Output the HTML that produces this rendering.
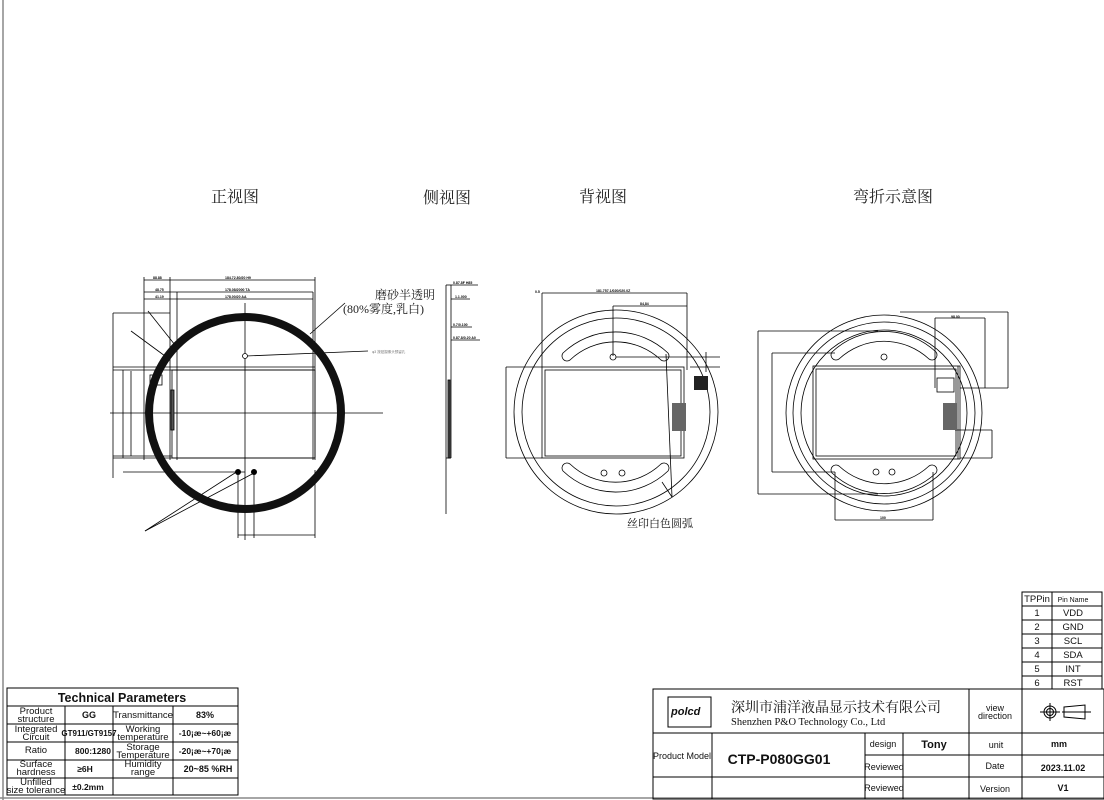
<!DOCTYPE html>
<html><head><meta charset="utf-8"><style>
html,body{margin:0;padding:0;background:#fff;}
svg{display:block;}
text{font-family:"Liberation Sans","Noto Sans CJK SC",sans-serif;}
.s{font-family:"Liberation Serif","Noto Serif CJK SC",serif;}
</style></head><body>
<svg width="1104" height="800" viewBox="0 0 1104 800" xmlns="http://www.w3.org/2000/svg">
<rect width="1104" height="800" fill="#fff"/>
<line x1="3" y1="0" x2="3" y2="800" stroke="#888" stroke-width="1.5"/>
<line x1="0" y1="798" x2="1104" y2="798" stroke="#888" stroke-width="1.5"/>

<!-- titles -->
<g class="s" font-size="16" fill="#222" text-anchor="middle">
<text x="235" y="202" class="s">正视图</text>
<text x="447" y="203" class="s">侧视图</text>
<text x="603" y="202" class="s">背视图</text>
<text x="893" y="202" class="s">弯折示意图</text>
</g>

<!-- FRONT VIEW -->
<g stroke="#000" fill="none" stroke-width="0.8">
<line x1="144" y1="280" x2="315" y2="280"/>
<line x1="144" y1="292" x2="313" y2="292"/>
<line x1="144" y1="299" x2="313" y2="299"/>
<line x1="144" y1="277" x2="144" y2="460"/>
<line x1="170" y1="277" x2="170" y2="460"/>
<line x1="177" y1="292" x2="177" y2="460"/>
<line x1="315" y1="277" x2="315" y2="460"/>
<line x1="313" y1="292" x2="313" y2="460"/>
<line x1="113" y1="313" x2="170" y2="313"/>
<line x1="113" y1="313" x2="113" y2="478"/>
<line x1="113" y1="367" x2="315" y2="367"/>
<line x1="113" y1="370" x2="315" y2="370"/>
<line x1="123" y1="370" x2="123" y2="458"/>
<line x1="131" y1="371" x2="131" y2="456"/>
<line x1="113" y1="458" x2="315" y2="458"/>
<line x1="113" y1="456" x2="172" y2="456"/>
<line x1="123" y1="472" x2="245" y2="472"/>
<rect x="172" y="370" width="143" height="88"/>
<line x1="110" y1="413" x2="383" y2="413"/>
<line x1="245" y1="303" x2="245" y2="540"/>
<line x1="238" y1="471" x2="238" y2="538"/>
<line x1="254" y1="471" x2="254" y2="538"/>
<line x1="238" y1="535" x2="315" y2="535"/>
<line x1="315" y1="470" x2="315" y2="538"/>
<line x1="148" y1="311" x2="175" y2="345"/>
<line x1="131" y1="331" x2="165" y2="356"/>
<line x1="310" y1="334" x2="345" y2="303"/>
<line x1="246" y1="356" x2="368" y2="351"/>
<line x1="145" y1="531" x2="238" y2="471"/>
<line x1="145" y1="531" x2="254" y2="473"/>
<rect x="150" y="375" width="12" height="10"/>
<rect x="171" y="390" width="3" height="40" fill="#555"/>
</g>
<circle cx="245" cy="413" r="96" fill="none" stroke="#111" stroke-width="8"/>
<circle cx="245" cy="356" r="2.5" fill="#fff" stroke="#000" stroke-width="0.8"/>
<circle cx="238" cy="472" r="3" fill="#000"/>
<circle cx="254" cy="472" r="3" fill="#000"/>
<g font-size="3.5" fill="#000" font-weight="bold">
<text x="153" y="279">88.88</text><text x="225" y="279">184.72.80/20 H9</text>
<text x="155" y="291">48.75</text><text x="225" y="291">178.08/2000 TA</text>
<text x="155" y="298">41.19</text><text x="225" y="298">178.00/20 AA</text>
</g>
<text x="372" y="353" font-size="3.5" fill="#777">φ3 按钮摄像头预留孔</text>
<text x="375" y="299" class="s" font-size="12" fill="#222">磨砂半透明</text>
<text x="343" y="313" class="s" font-size="12" fill="#222">(80%雾度,乳白)</text>

<!-- SIDE VIEW -->
<g stroke="#000" fill="none" stroke-width="0.8">
<line x1="446" y1="285" x2="446" y2="514"/>
<line x1="451" y1="285" x2="451" y2="458"/>
<line x1="446" y1="285" x2="451" y2="285"/>
<line x1="446" y1="458" x2="451" y2="458"/>
<rect x="448" y="380" width="2" height="78" fill="#555"/>
<line x1="451" y1="285" x2="478" y2="285"/>
<line x1="451" y1="299" x2="470" y2="299"/>
<line x1="451" y1="327" x2="472" y2="327"/>
<line x1="451" y1="340" x2="480" y2="340"/>
</g>
<g font-size="3.5" font-weight="bold"><text x="453" y="284">0.87.8F H85</text><text x="455" y="298">1.1.000</text><text x="453" y="326">0.7/0.100</text><text x="453" y="339">0.87.8/0.20 A0</text></g>

<!-- BACK VIEW -->
<g stroke="#000" fill="none" stroke-width="0.8">
<circle cx="616" cy="412" r="102"/>
<circle cx="616" cy="412" r="94"/>
<path d="M563 353 A 76 76 0 0 1 668 353 A 5 5 0 0 1 661 360 A 66 66 0 0 0 570 360 A 5 5 0 0 1 563 353 Z"/>
<path d="M563 471 A 76 76 0 0 0 668 471 A 5 5 0 0 0 661 464 A 66 66 0 0 1 570 464 A 5 5 0 0 0 563 471 Z"/>
<rect x="542" y="367" width="142" height="91"/>
<rect x="545" y="370" width="136" height="86"/>
<line x1="542" y1="367" x2="542" y2="293"/>
<line x1="542" y1="293" x2="687" y2="293"/>
<line x1="687" y1="293" x2="687" y2="370"/>
<line x1="613" y1="306" x2="613" y2="356"/>
<line x1="613" y1="306" x2="687" y2="306"/>
<line x1="616" y1="357" x2="720" y2="357"/>
<line x1="690" y1="367" x2="720" y2="367"/>
<line x1="706" y1="352" x2="706" y2="372"/>
<line x1="506" y1="367" x2="542" y2="367"/>
<line x1="506" y1="458" x2="542" y2="458"/>
<line x1="506" y1="367" x2="506" y2="458"/>
<line x1="666" y1="354" x2="672" y2="497"/>
<line x1="662" y1="482" x2="672" y2="497"/>
<circle cx="613" cy="357" r="3"/>
<circle cx="604" cy="473" r="3"/>
<circle cx="622" cy="473" r="3"/>
</g>
<rect x="694" y="376" width="14" height="14" fill="#222"/>
<rect x="672" y="403" width="14" height="28" fill="#666"/>
<text x="627" y="527" class="s" font-size="11" fill="#111">丝印白色圆弧</text>
<g font-size="3.5" font-weight="bold"><text x="535" y="293">0.5</text><text x="596" y="292">181.757.1/020/020.0Z</text><text x="640" y="305">84,84</text></g>

<!-- BEND VIEW -->
<g stroke="#000" fill="none" stroke-width="0.8">
<circle cx="884" cy="413" r="98"/>
<circle cx="884" cy="413" r="91"/>
<circle cx="884" cy="413" r="83"/>
<path d="M832 352 A 76 76 0 0 1 936 352 A 5 5 0 0 1 929 359 A 66 66 0 0 0 839 359 A 5 5 0 0 1 832 352 Z"/>
<path d="M832 473 A 76 76 0 0 0 936 473 A 5 5 0 0 0 929 466 A 66 66 0 0 1 839 466 A 5 5 0 0 0 832 473 Z"/>
<rect x="813" y="366" width="147" height="93"/>
<rect x="816" y="369" width="140" height="87"/>
<line x1="958" y1="366" x2="958" y2="459"/>
<rect x="937" y="378" width="17" height="14"/>
<line x1="758" y1="331" x2="878" y2="331"/>
<line x1="758" y1="331" x2="758" y2="494"/>
<line x1="758" y1="494" x2="878" y2="494"/>
<line x1="772" y1="353" x2="835" y2="353"/>
<line x1="772" y1="353" x2="772" y2="472"/>
<line x1="772" y1="472" x2="835" y2="472"/>
<line x1="935" y1="318" x2="985" y2="318"/>
<line x1="935" y1="318" x2="935" y2="388"/>
<line x1="985" y1="318" x2="985" y2="388"/>
<line x1="900" y1="312" x2="1008" y2="312"/>
<line x1="1008" y1="312" x2="1008" y2="388"/>
<line x1="960" y1="388" x2="1008" y2="388"/>
<line x1="955" y1="430" x2="992" y2="430"/>
<line x1="992" y1="430" x2="992" y2="458"/>
<line x1="960" y1="458" x2="992" y2="458"/>
<line x1="835" y1="472" x2="835" y2="520"/>
<line x1="933" y1="472" x2="933" y2="520"/>
<line x1="835" y1="520" x2="933" y2="520"/>
<circle cx="884" cy="357" r="3"/>
<circle cx="876" cy="472" r="3"/>
<circle cx="892" cy="472" r="3"/>
</g>
<rect x="943" y="403" width="14" height="27" fill="#666"/>
<g font-size="3.5" font-weight="bold"><text x="951" y="318">98.00</text><text x="880" y="519">100</text></g>

<!-- TECH PARAMS TABLE -->
<g stroke="#000" stroke-width="1" fill="none">
<rect x="7" y="688" width="231" height="107"/>
<line x1="7" y1="706" x2="238" y2="706"/>
<line x1="7" y1="724" x2="238" y2="724"/>
<line x1="7" y1="742" x2="238" y2="742"/>
<line x1="7" y1="760" x2="238" y2="760"/>
<line x1="7" y1="778" x2="238" y2="778"/>
<line x1="65" y1="706" x2="65" y2="795"/>
<line x1="113" y1="706" x2="113" y2="795"/>
<line x1="173" y1="706" x2="173" y2="795"/>
</g>
<g fill="#111" text-anchor="middle" font-size="9.5">
<text x="122" y="702" font-size="12.5" font-weight="bold">Technical Parameters</text>
<text x="36" y="714">Product</text><text x="36" y="722">structure</text>
<text x="89" y="718" font-weight="bold" font-size="9">GG</text>
<text x="143" y="718">Transmittance</text>
<text x="205" y="718" font-weight="bold" font-size="9">83%</text>
<text x="36" y="732">Integrated</text><text x="36" y="740">Circuit</text>
<text x="89" y="736" font-weight="bold" font-size="8">GT911/GT9157</text>
<text x="143" y="732">Working</text><text x="143" y="740">temperature</text>
<text x="205" y="736" font-weight="bold" font-size="8.5">-10¡æ~+60¡æ</text>
<text x="36" y="753">Ratio</text>
<text x="93" y="754" font-weight="bold" font-size="8.5">800:1280</text>
<text x="143" y="750">Storage</text><text x="143" y="758">Temperature</text>
<text x="205" y="754" font-weight="bold" font-size="8.5">-20¡æ~+70¡æ</text>
<text x="36" y="767">Surface</text><text x="36" y="775">hardness</text>
<text x="85" y="772" font-weight="bold" font-size="8.5">≥6H</text>
<text x="143" y="767">Humidity</text><text x="143" y="775">range</text>
<text x="208" y="772" font-weight="bold" font-size="9">20~85 %RH</text>
<text x="36" y="785">Unfilled</text><text x="36" y="793">size tolerance</text>
<text x="88" y="790" font-weight="bold" font-size="8.5">±0.2mm</text>
</g>

<!-- PIN TABLE -->
<g stroke="#000" stroke-width="1" fill="none">
<rect x="1022" y="592" width="80" height="97"/>
<line x1="1052" y1="592" x2="1052" y2="689"/>
<line x1="1022" y1="606" x2="1102" y2="606"/>
<line x1="1022" y1="620" x2="1102" y2="620"/>
<line x1="1022" y1="634" x2="1102" y2="634"/>
<line x1="1022" y1="648" x2="1102" y2="648"/>
<line x1="1022" y1="662" x2="1102" y2="662"/>
<line x1="1022" y1="676" x2="1102" y2="676"/>
</g>
<g fill="#111" text-anchor="middle" font-size="9.5">
<text x="1037" y="602">TPPin</text><text x="1073" y="602" font-size="7">Pin Name</text>
<text x="1037" y="616">1</text><text x="1073" y="616">VDD</text>
<text x="1037" y="630">2</text><text x="1073" y="630">GND</text>
<text x="1037" y="644">3</text><text x="1073" y="644">SCL</text>
<text x="1037" y="658">4</text><text x="1073" y="658">SDA</text>
<text x="1037" y="672">5</text><text x="1073" y="672">INT</text>
<text x="1037" y="686">6</text><text x="1073" y="686">RST</text>
</g>

<!-- TITLE BLOCK -->
<g stroke="#000" stroke-width="1" fill="none">
<rect x="653" y="689" width="451" height="110"/>
<line x1="653" y1="733" x2="1104" y2="733"/>
<line x1="653" y1="777" x2="1104" y2="777"/>
<line x1="712" y1="733" x2="712" y2="799"/>
<line x1="865" y1="733" x2="865" y2="799"/>
<line x1="903" y1="733" x2="903" y2="799"/>
<line x1="865" y1="755" x2="1104" y2="755"/>
<line x1="969" y1="689" x2="969" y2="799"/>
<line x1="1022" y1="689" x2="1022" y2="799"/>
<path d="M668 697 H711 V727 H668 Z"/>
<circle cx="1050" cy="712" r="6"/><circle cx="1050" cy="712" r="3.5"/>
<line x1="1040" y1="712" x2="1060" y2="712"/><line x1="1050" y1="703" x2="1050" y2="721"/>
<path d="M1064 707 L1085 705 L1085 719 L1064 717 Z"/>
<line x1="1062" y1="712" x2="1091" y2="712"/>
</g>
<text x="671" y="715" font-size="11" font-style="italic" font-weight="bold" fill="#111">polcd</text>
<text x="731" y="712" class="s" font-size="14" fill="#111">深圳市浦洋液晶显示技术有限公司</text>
<text x="731" y="725" class="s" font-size="10.5" fill="#111">Shenzhen P&amp;O Technology Co., Ltd</text>
<g fill="#111" text-anchor="middle" font-size="9">
<text x="995" y="711">view</text><text x="995" y="719">direction</text>
<text x="682" y="759">Product Model</text>
<text x="779" y="764" font-size="14" font-weight="bold">CTP-P080GG01</text>
<text x="883" y="747">design</text>
<text x="934" y="748" font-size="11" font-weight="bold">Tony</text>
<text x="884" y="770">Reviewed</text>
<text x="884" y="791">Reviewed</text>
<text x="996" y="748">unit</text>
<text x="1059" y="747" font-weight="bold">mm</text>
<text x="995" y="769">Date</text>
<text x="1063" y="771" font-weight="bold">2023.11.02</text>
<text x="995" y="792">Version</text>
<text x="1063" y="791" font-weight="bold">V1</text>
</g>
</svg>
</body></html>
